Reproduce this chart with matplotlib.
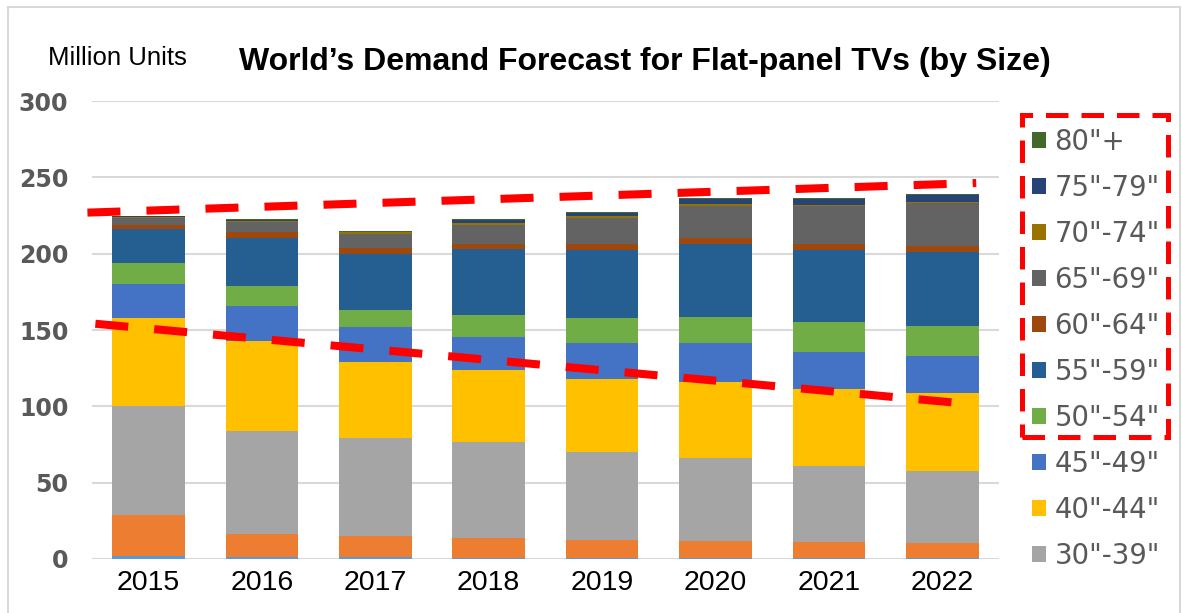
import numpy as np
import matplotlib.pyplot as plt
from matplotlib.patches import Rectangle, Patch

years = ['2015', '2016', '2017', '2018', '2019', '2020', '2021', '2022']

# million units, stacked from the bottom up
s_19 = [2.0, 1.1, 1.1, 0.7, 0.7, 0.7, 0.4, 0.4]
s_20_29 = [27.0, 15.6, 13.7, 13.0, 11.7, 11.0, 10.7, 9.8]
s_30_39 = [71.0, 67.4, 64.5, 63.0, 57.6, 54.2, 49.8, 47.6]
s_40_44 = [58.0, 58.5, 49.6, 47.4, 47.8, 50.2, 50.2, 50.9]
s_45_49 = [22.4, 23.3, 22.8, 21.6, 23.5, 25.2, 24.6, 24.1]
s_50_54 = [13.7, 12.8, 11.4, 14.3, 16.3, 17.5, 19.3, 19.8]
s_55_59 = [22.0, 31.3, 36.9, 43.3, 44.8, 47.5, 47.5, 48.7]
s_60_64 = [3.0, 3.9, 3.5, 3.0, 3.7, 3.9, 3.7, 3.9]
s_65_69 = [4.2, 7.0, 9.3, 12.8, 17.4, 20.9, 24.8, 27.8]
s_70_74 = [0.5, 0.6, 1.1, 1.1, 1.3, 1.5, 0.9, 0.9]
s_75_79 = [0.8, 0.5, 0.4, 1.6, 1.7, 3.5, 4.1, 4.6]
s_80 = [0.2, 0.4, 0.7, 0.8, 0.7, 0.6, 0.6, 0.4]

series = [s_19, s_20_29, s_30_39, s_40_44, s_45_49, s_50_54,
          s_55_59, s_60_64, s_65_69, s_70_74, s_75_79, s_80]
labels = ['-19"', '20"-29"', '30"-39"', '40"-44"', '45"-49"', '50"-54"',
          '55"-59"', '60"-64"', '65"-69"', '70"-74"', '75"-79"', '80"+']
colors = ['#5B9BD5', '#ED7D31', '#A5A5A5', '#FFC000', '#4472C4', '#70AD47',
          '#255E91', '#9E480E', '#636363', '#997300', '#264478', '#43682B']

# red dashed trend marks drawn on the chart (x in bar index, y in million units)
upper_trend_x = [-0.54, 7.30]
upper_trend_y = [226.9, 246.3]
lower_trend_x = [-0.47, 7.10]
lower_trend_y = [154.1, 102.5]

fig = plt.figure(figsize=(11.82, 6.13), dpi=100)
ax = fig.add_axes([0.0778, 0.0881, 0.7673, 0.7471])

x = np.arange(len(years))
bottom = np.zeros(len(years))
for vals, lab, col in zip(series, labels, colors):
    ax.bar(x, vals, 0.64, bottom=bottom, color=col, label=lab, zorder=2)
    bottom += np.array(vals)

dash = dict(color='#FF0000', lw=5.8, linestyle=(0, (4.1, 3.23)),
            dash_capstyle='butt', zorder=5, clip_on=False)
ax.plot(upper_trend_x, upper_trend_y, **dash)
ax.plot(lower_trend_x, lower_trend_y, **dash)

ax.set_xlim(-0.5, 7.5)
ax.set_ylim(0, 300)
ax.set_yticks(range(0, 301, 50))
ax.set_xticks(x)
ax.set_xticklabels(years, fontsize=20.5, family='Liberation Sans', color='black')
for t in ax.get_yticklabels():
    t.set_fontsize(17)
    t.set_fontweight('bold')
    t.set_color('#595959')
ax.tick_params(axis='both', length=0)
ax.tick_params(axis='y', pad=17)
ax.tick_params(axis='x', pad=8)
ax.grid(axis='y', color='#D9D9D9', lw=1.5, zorder=0)
for s in ax.spines.values():
    s.set_visible(False)

fig.text(0.0406, 0.906, 'Million Units', fontsize=18.5, family='Liberation Sans',
         va='center', ha='left')
fig.text(0.546, 0.899, 'World\u2019s Demand Forecast for Flat-panel TVs (by Size)',
         fontsize=23, fontweight='bold', family='Liberation Sans',
         va='center', ha='center')

# legend shows the larger sizes only, top to bottom
handles = [Patch(facecolor=c) for c in colors[2:]][::-1]
fig.legend(handles, labels[2:][::-1], loc='upper left',
           bbox_to_anchor=(0.873, 0.792), frameon=False, fontsize=19.8,
           labelcolor='#595959', handlelength=0.5, handleheight=0.5,
           handletextpad=0.32, labelspacing=0.655, borderpad=0, borderaxespad=0)

fig.patches.append(Rectangle((0.8646, 0.2871), 0.1235, 0.5253, transform=fig.transFigure,
                             fill=False, edgecolor='#FF0000', lw=3.6,
                             linestyle=(0, (4.5, 2.6))))
fig.patches.append(Rectangle((0.0068, -0.02), 0.9915, 1.0086, transform=fig.transFigure,
                             fill=False, edgecolor='#D9D9D9', lw=1.5))

plt.savefig('out.png', dpi=100)
